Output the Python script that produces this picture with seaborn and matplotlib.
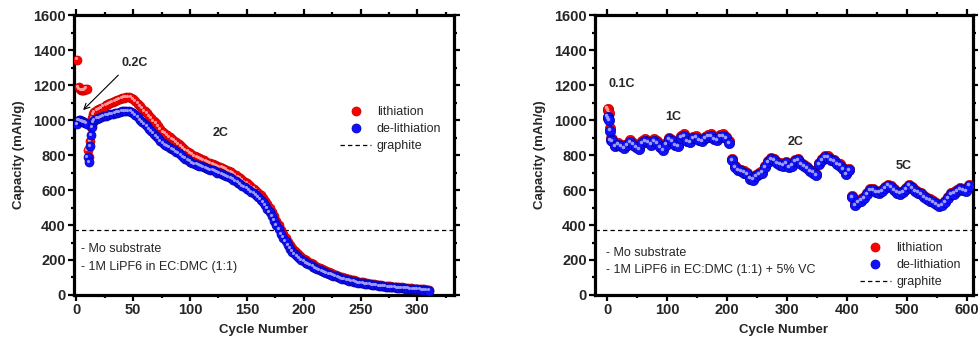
import numpy as np
import pandas as pd
import matplotlib
matplotlib.use("Agg")
import matplotlib.pyplot as plt
from matplotlib.lines import Line2D
from matplotlib.ticker import MultipleLocator
from matplotlib.transforms import offset_copy
import seaborn as sns

# ---------------- data: Mo substrate, 1M LiPF6 in EC:DMC (1:1) ----------------
left_cycles_early = [1, 2, 3, 4, 5, 6, 7, 8, 9, 10, 11, 12, 13, 14, 15]
left_lith_early = [1345, 1190, 1178, 1172, 1170, 1170, 1172, 1178, 1180, 830, 790, 880, 960, 1010, 1035]
left_delith_early = [975, 1000, 998, 995, 992, 990, 988, 985, 980, 790, 760, 850, 915, 960, 990]

# cycles 16, 18, ..., 310
left_lith_late = [
    1045, 1055, 1063, 1070, 1077, 1084, 1090, 1096, 1102, 1108,
    1114, 1119, 1124, 1128, 1131, 1132, 1128, 1120, 1108, 1094,
    1080, 1066, 1052, 1038, 1024, 1010, 996, 982, 966, 948,
    932, 922, 912, 902, 892, 882, 872, 862, 852, 841,
    830, 820, 811, 803, 796, 789, 782, 775, 769, 763,
    757, 752, 747, 742, 737, 733, 728, 723, 717, 710,
    702, 694, 685, 676, 666, 656, 647, 638, 628, 618,
    608, 597, 585, 571, 556, 539, 520, 500, 477, 451,
    425, 399, 373, 350, 327, 305, 285, 267, 252, 239,
    227, 216, 207, 198, 190, 182, 175, 168, 161, 155,
    148, 142, 136, 131, 126, 120, 115, 110, 105, 101,
    97, 93, 89, 86, 83, 80, 77, 74, 72, 70,
    67, 65, 63, 61, 59, 58, 56, 54, 53, 51,
    50, 48, 47, 45, 44, 43, 42, 40, 39, 38,
    37, 36, 35, 34, 33, 32, 30, 28,
]
left_delith_late = [
    1000, 1008, 1013, 1018, 1022, 1026, 1030, 1033, 1036, 1040,
    1043, 1046, 1049, 1052, 1053, 1052, 1048, 1040, 1028, 1015,
    1002, 990, 977, 964, 950, 937, 923, 910, 896, 880,
    866, 858, 850, 842, 834, 826, 818, 810, 800, 790,
    780, 770, 762, 756, 750, 745, 740, 735, 730, 725,
    720, 716, 712, 706, 700, 696, 692, 687, 681, 675,
    668, 660, 652, 643, 633, 624, 616, 608, 598, 590,
    581, 570, 558, 545, 530, 512, 494, 476, 452, 425,
    400, 375, 350, 328, 306, 285, 265, 248, 234, 222,
    211, 200, 192, 184, 176, 169, 162, 155, 149, 143,
    137, 131, 126, 121, 116, 111, 106, 101, 97, 93,
    89, 85, 82, 79, 76, 73, 70, 68, 66, 64,
    62, 60, 58, 56, 55, 53, 51, 50, 48, 47,
    45, 44, 43, 41, 40, 39, 38, 37, 36, 35,
    34, 33, 32, 31, 30, 29, 27, 25,
]

# ---------------- data: Mo substrate, 1M LiPF6 in EC:DMC (1:1) + 5% VC ----------------
right_cycles_early = [1, 2, 3, 5, 6]
right_lith_early = [1065, 1055, 1040, 955, 895]
right_delith_early = [1020, 1012, 1000, 940, 885]

# cycles 8, 13, ..., 603 (1C, 2C, 5C blocks)
right_delith_1c = [880, 850, 860, 850, 840, 855, 875, 860, 845, 835,
                   870, 880, 875, 860, 880, 870, 845, 830, 860, 890,
                   880, 855, 850, 900, 910, 880, 875, 895, 900, 885,
                   880, 895, 905, 910, 890, 885, 905, 910, 895, 870]
right_lith_1c = [890, 858, 868, 857, 848, 864, 884, 868, 853, 843,
                 879, 889, 883, 868, 889, 878, 853, 838, 869, 899,
                 888, 863, 858, 909, 919, 888, 883, 903, 909, 893,
                 888, 903, 913, 918, 898, 893, 913, 918, 903, 878]
right_delith_2c = [770, 730, 715, 710, 700, 690, 665, 660, 680, 690,
                   700, 730, 760, 775, 770, 755, 745, 740, 755, 730,
                   740, 765, 770, 750, 735, 725, 710, 700, 685, 750,
                   770, 790, 785, 770, 765, 750, 740, 720, 690, 715]
right_lith_2c = [778, 738, 722, 717, 707, 697, 672, 667, 687, 697,
                 707, 737, 767, 782, 777, 762, 752, 747, 762, 737,
                 747, 772, 777, 757, 742, 732, 717, 707, 692, 757,
                 777, 797, 792, 777, 772, 757, 747, 727, 697, 722]
right_delith_5c = [560, 515, 530, 540, 555, 575, 600, 600, 590, 585,
                   595, 610, 625, 615, 600, 585, 580, 590, 605, 625,
                   610, 595, 585, 575, 560, 550, 540, 530, 520, 510,
                   515, 530, 555, 575, 580, 595, 605, 600, 595, 625]
right_lith_5c = [568, 521, 536, 546, 561, 581, 606, 606, 596, 591,
                 601, 616, 631, 621, 606, 591, 586, 596, 611, 631,
                 616, 601, 591, 581, 566, 556, 546, 536, 526, 516,
                 521, 536, 561, 581, 586, 601, 611, 606, 601, 631]

graphite_capacity = 372
series_labels = ["lithiation", "de-lithiation", "graphite"]
left_notes = ["- Mo substrate", "- 1M LiPF6 in EC:DMC (1:1)"]
right_notes = ["- Mo substrate", "- 1M LiPF6 in EC:DMC (1:1) + 5% VC"]

# ---------------- tables ----------------
left_cycles = np.concatenate([left_cycles_early, np.arange(16, 311, 2)])
left_df = pd.DataFrame({
    "cycle": left_cycles,
    "lith": left_lith_early + left_lith_late,
    "delith": left_delith_early + left_delith_late,
})
right_cycles = np.concatenate([right_cycles_early, np.arange(8, 604, 5)])
right_df = pd.DataFrame({
    "cycle": right_cycles,
    "lith": right_lith_early + right_lith_1c + right_lith_2c + right_lith_5c,
    "delith": right_delith_early + right_delith_1c + right_delith_2c + right_delith_5c,
})

# ---------------- style ----------------
sns.set_style("ticks")
plt.rcParams["font.family"] = ["Liberation Sans", "DejaVu Sans"]

RED = "#ff0000"
RED_EDGE = "#c00000"
BLUE = "#1010ff"
BLUE_EDGE = "#0000a8"

fig = plt.figure(figsize=(9.79, 3.43), dpi=100)
ax_l = fig.add_axes([0.0756, 0.140, 0.388, 0.816])
ax_r = fig.add_axes([0.6078, 0.140, 0.386, 0.816])


def draw_series(ax, df, size):
    hl = offset_copy(ax.transData, fig=fig, x=-1.2, y=1.2, units="dots")
    sns.scatterplot(data=df, x="cycle", y="lith", ax=ax, color=RED, edgecolor=RED_EDGE,
                    linewidth=0.5, s=size, legend=False, zorder=3)
    ax.scatter(df["cycle"], df["lith"], s=size * 0.12, color="#ff9a9a", lw=0,
               transform=hl, zorder=3.1)
    sns.scatterplot(data=df, x="cycle", y="delith", ax=ax, color=BLUE, edgecolor=BLUE_EDGE,
                    linewidth=0.5, s=size, legend=False, zorder=4)
    ax.scatter(df["cycle"], df["delith"], s=size * 0.12, color="#9a9aff", lw=0,
               transform=hl, zorder=4.1)
    ax.axhline(graphite_capacity, color="black", lw=0.9, ls=(0, (3.5, 2.5)), zorder=2)


def style_axes(ax, xlim, xmajor, xminor):
    ax.set_xlim(*xlim)
    ax.set_ylim(0, 1600)
    ax.xaxis.set_major_locator(MultipleLocator(xmajor))
    ax.xaxis.set_minor_locator(MultipleLocator(xminor))
    ax.yaxis.set_major_locator(MultipleLocator(200))
    ax.yaxis.set_minor_locator(MultipleLocator(100))
    for sp in ax.spines.values():
        sp.set_visible(True)
        sp.set_linewidth(2.3)
        sp.set_color("black")
    ax.tick_params(which="both", direction="out", top=True, right=True,
                   width=1.6, color="black")
    ax.tick_params(which="major", length=4, labelsize=10.5, pad=2)
    ax.tick_params(which="minor", length=2.5)
    for lbl in ax.get_xticklabels() + ax.get_yticklabels():
        lbl.set_fontweight("bold")
    ax.set_xlabel("Cycle Number", fontsize=9.5, fontweight="bold", labelpad=5)
    ax.set_ylabel("Capacity (mAh/g)", fontsize=9.5, fontweight="bold", labelpad=6)


def add_legend(ax, anchor):
    handles = [
        Line2D([], [], ls="none", marker="o", ms=6.5, mfc=RED, mec=RED_EDGE, mew=0.5),
        Line2D([], [], ls="none", marker="o", ms=6.5, mfc=BLUE, mec=BLUE_EDGE, mew=0.5),
        Line2D([], [], color="black", lw=0.9, ls=(0, (3.5, 2.5))),
    ]
    ax.legend(handles, series_labels, loc="upper left", bbox_to_anchor=anchor,
              frameon=False, fontsize=9, handlelength=2.5, handletextpad=0.45,
              labelspacing=0.4, borderpad=0, borderaxespad=0)


# ---------------- left panel ----------------
draw_series(ax_l, left_df, 42)
style_axes(ax_l, (-2, 332), 50, 25)
add_legend(ax_l, (0.70, 0.675))
ax_l.annotate("", xy=(6, 1057), xytext=(37, 1257),
              arrowprops=dict(arrowstyle="->", lw=0.8, color="black",
                              shrinkA=0, shrinkB=0))
ax_l.text(51, 1326, "0.2C", ha="center", va="center", fontsize=9, fontweight="bold")
ax_l.text(127, 926, "2C", ha="center", va="center", fontsize=9, fontweight="bold")
ax_l.text(4, 261, left_notes[0], ha="left", va="center", fontsize=9)
ax_l.text(4, 162, left_notes[1], ha="left", va="center", fontsize=9)

# ---------------- right panel ----------------
draw_series(ax_r, right_df, 55)
style_axes(ax_r, (-20, 610), 100, 50)
add_legend(ax_r, (0.70, 0.189))
ax_r.text(24, 1206, "0.1C", ha="center", va="center", fontsize=9, fontweight="bold")
ax_r.text(111, 1017, "1C", ha="center", va="center", fontsize=9, fontweight="bold")
ax_r.text(315, 872, "2C", ha="center", va="center", fontsize=9, fontweight="bold")
ax_r.text(495, 737, "5C", ha="center", va="center", fontsize=9, fontweight="bold")
ax_r.text(-1, 240, right_notes[0], ha="left", va="center", fontsize=9)
ax_r.text(-1, 143, right_notes[1], ha="left", va="center", fontsize=9)

fig.savefig("out.png", dpi=100)
